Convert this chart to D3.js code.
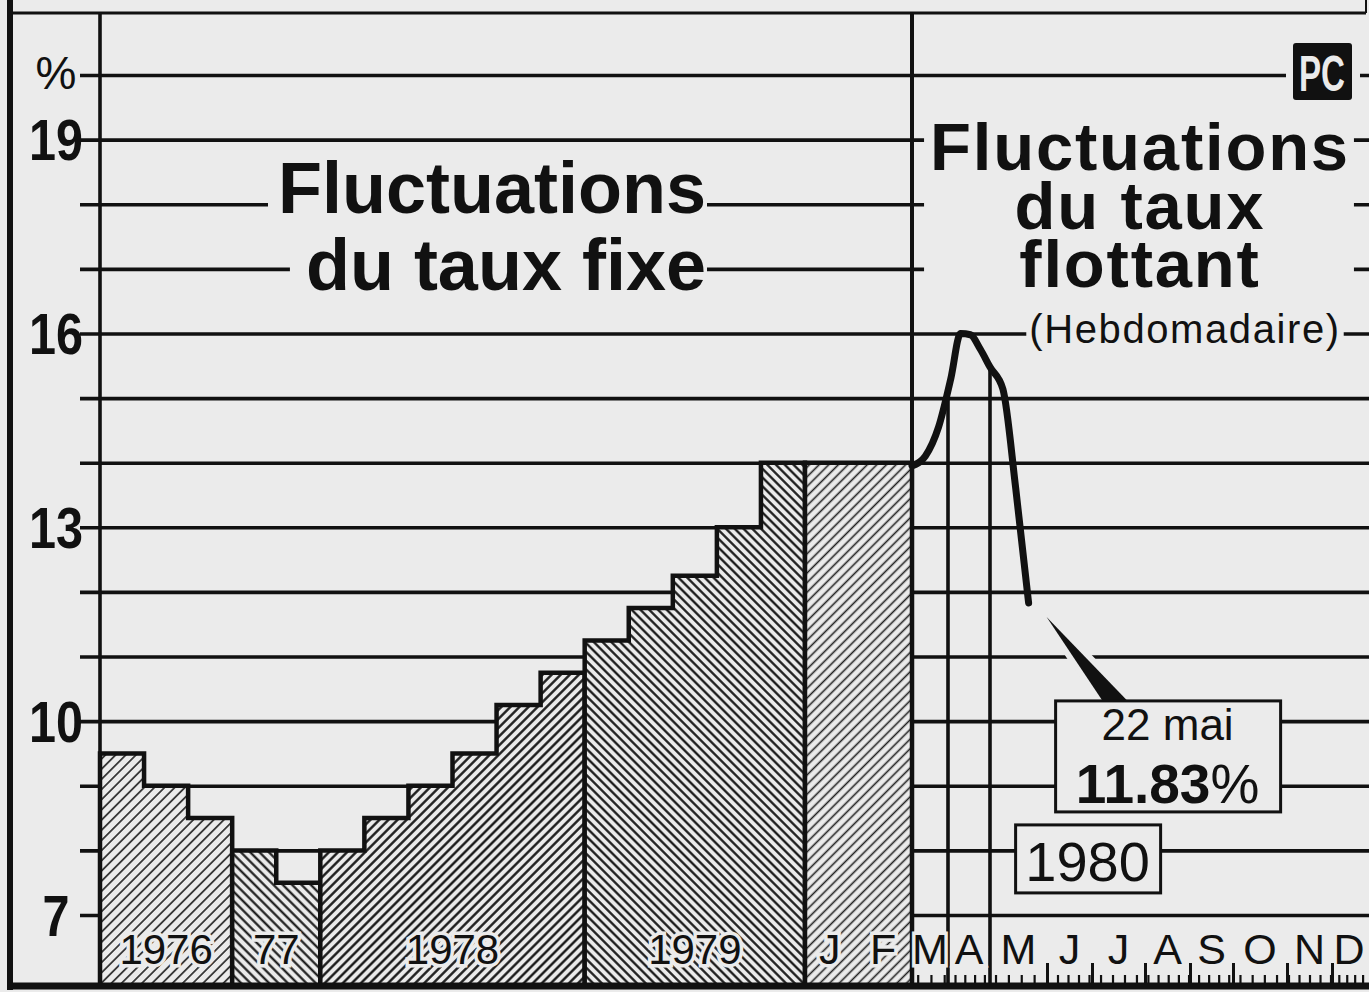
<!DOCTYPE html>
<html>
<head>
<meta charset="utf-8">
<script src="https://cdn.jsdelivr.net/npm/d3@7"></script>
<style>
html, body { margin: 0; padding: 0; background: #ebebeb; }
svg { display: block; }
text { font-family: "Liberation Sans", Arial, sans-serif; }
</style>
</head>
<body>
<svg id="chart" width="1369" height="992"></svg>
<script>
// ############################################
// data
var yTickValues = [7, 8, 9, 10, 11, 12, 13, 14, 15, 16, 17, 18, 19, 20];
var yTickLabels = { 7: "7", 10: "10", 13: "13", 16: "16", 19: "19", 20: "%" };

// fixed bank rate: every rate level gets one equal-width step
var fixedGroups = ["1976", "77", "1978", "1979"];
var fixedGroupSteps = [3, 2, 6, 5];
var fixedRates = [9.5, 9.0, 8.5, 8.0, 7.5, 8.0, 8.5, 9.0, 9.5, 10.25, 10.75, 11.25, 11.75, 12.25, 13.0, 14.0];

// 1980, before the floating rate
var fixedMonths1980 = ["J", "F"];
var fixedRate1980 = 14.0;

// floating rate, weekly
var floatDates = ["1980-03-13", "1980-03-20", "1980-03-27", "1980-04-03", "1980-04-10", "1980-04-17",
                  "1980-04-24", "1980-05-01", "1980-05-08", "1980-05-15", "1980-05-22"];
var floatRates = [13.95, 14.1, 14.55, 15.3, 16.0, 15.98, 15.76, 15.48, 15.14, 13.6, 11.83];

// month boundaries of the 1980 axis and their letters
var monthEdgeDates = ["1980-03-13", "1980-04-01", "1980-05-01", "1980-06-01", "1980-07-01", "1980-08-01",
                      "1980-09-01", "1980-10-01", "1980-11-01", "1980-12-01", "1980-12-31"];
var monthLabels = ["M", "A", "M", "J", "J", "A", "S", "O", "N", "D"];
var frMonths = ["janv.", "févr.", "mars", "avril", "mai", "juin", "juil.", "août", "sept.", "oct.", "nov.", "déc."];

// ############################################
// layout
var W = 1369, H = 992;
var bg = "#ebebeb", ink = "#111";
var plotTop = 13, plotBottom = 986, axisX = 100, splitX = 912, rightX = 1366;
var parse = d3.timeParse("%Y-%m-%d");

var svg = d3.select("#chart");
svg.append("rect").attr("width", W).attr("height", H).attr("fill", bg);

var y = d3.scaleLinear().domain([7, 20]).range([915, 75]);
var xFixed = d3.scaleLinear().domain([0, d3.sum(fixedGroupSteps)]).range([axisX, 805]);
var xJF = d3.scaleBand().domain(fixedMonths1980).range([805, splitX]);
// the hand-drawn months are not all the same width
var xFloat = d3.scaleTime()
    .domain(monthEdgeDates.map(parse))
    .range([912, 948, 990, 1047, 1092, 1145, 1190, 1233, 1287, 1332, 1366]);
var rateAt = d3.scaleTime().domain(floatDates.map(parse)).range(floatRates);

// ############################################
// hatch patterns
var defs = svg.append("defs");
function addHatch(id, angle, spacing, width, color) {
    var p = defs.append("pattern")
        .attr("id", id)
        .attr("patternUnits", "userSpaceOnUse")
        .attr("width", spacing)
        .attr("height", spacing)
        .attr("patternTransform", "rotate(" + angle + ")");
    p.append("rect").attr("width", spacing).attr("height", spacing).attr("fill", bg);
    p.append("line")
        .attr("x1", spacing / 2).attr("x2", spacing / 2)
        .attr("y1", -1).attr("y2", spacing + 1)
        .attr("stroke", color)
        .attr("stroke-width", width);
}
addHatch("h1976", 45, 7.2, 1.6, "#222");
addHatch("h77", -45, 6.6, 2.1, ink);
addHatch("h1978", 45, 6.4, 2.3, ink);
addHatch("h1979", -45, 6.2, 2.2, ink);
addHatch("hJF", 45, 6.8, 1.6, "#222");
var groupHatch = ["h1976", "h77", "h1978", "h1979"];

// ############################################
// gridlines
var grid = svg.append("g")
    .attr("transform", "translate(80,0)")
    .call(d3.axisRight(y).tickValues(yTickValues).tickSize(W - 80).tickFormat(""));
grid.select(".domain").remove();
grid.selectAll("line").attr("stroke", ink).attr("stroke-width", 3.6);

// ############################################
// titles (they cut the gridlines)
var titleG = svg.append("g");
function haloBox(sel, padL, padR, padT, padB) {
    var b = sel.node().getBBox();
    titleG.insert("rect", ":first-child")
        .attr("x", b.x - padL).attr("y", b.y - padT)
        .attr("width", b.width + padL + padR).attr("height", b.height + padT + padB)
        .attr("fill", bg);
}
var t1 = titleG.append("text").attr("x", 706).attr("y", 213).attr("text-anchor", "end")
    .attr("font-size", 72).attr("font-weight", "bold").attr("fill", ink).text("Fluctuations");
haloBox(t1, 10, 1, -4, -8);
var t2 = titleG.append("text").attr("x", 706).attr("y", 290).attr("text-anchor", "end")
    .attr("font-size", 72).attr("font-weight", "bold").attr("fill", ink).text("du taux fixe");
haloBox(t2, 16, 1, -4, -8);

var rightTitle = ["Fluctuations", "du taux", "flottant"];
var rightBase = [170, 229, 287];
var rt = titleG.selectAll("text.rt")
    .data(rightTitle)
    .join("text")
    .attr("class", "rt")
    .attr("x", 1140)
    .attr("y", function(d, i) { return rightBase[i]; })
    .attr("text-anchor", "middle")
    .attr("font-size", 67)
    .attr("font-weight", "bold")
    .attr("letter-spacing", 1.8)
    .attr("fill", ink)
    .text(function(d) { return d; });
var b1 = rt.nodes()[0].getBBox(), b3 = rt.nodes()[2].getBBox();
titleG.insert("rect", ":first-child")
    .attr("x", b1.x - 6).attr("y", b1.y)
    .attr("width", b1.width + 10).attr("height", b3.y + b3.height - b1.y)
    .attr("fill", bg);
var r4 = titleG.append("text").attr("x", 1185).attr("y", 343).attr("text-anchor", "middle")
    .attr("font-family", "DejaVu Sans").attr("font-size", 40).attr("letter-spacing", 1.6)
    .attr("fill", ink).text("(Hebdomadaire)");
haloBox(r4, 3, 3, -2, -4);

// PC logo
var logoY = y(20);
svg.append("rect").attr("x", 1286).attr("y", logoY - 36).attr("width", 74).attr("height", 66).attr("fill", bg);
svg.append("rect").attr("x", 1293).attr("y", logoY - 32).attr("width", 59).attr("height", 57)
    .attr("rx", 3).attr("fill", ink);
svg.append("text").attr("x", 1322).attr("y", logoY + 16).attr("text-anchor", "middle")
    .attr("font-weight", "bold").attr("font-size", 50)
    .attr("textLength", 46).attr("lengthAdjust", "spacingAndGlyphs")
    .attr("fill", bg).text("PC");

// ############################################
// fixed rate steps
var area = d3.area()
    .curve(d3.curveStepAfter)
    .x(function(d) { return d.x; })
    .y0(plotBottom)
    .y1(function(d) { return y(d.v); });

var bars = svg.append("g");
var start = 0;
var groupCenters = [];
fixedGroups.forEach(function(g, gi) {
    var n = fixedGroupSteps[gi];
    var pts = [];
    for (var i = 0; i < n; i++) {
        pts.push({ x: xFixed(start + i), v: fixedRates[start + i] });
    }
    pts.push({ x: xFixed(start + n), v: fixedRates[start + n - 1] });
    bars.append("path")
        .attr("d", area(pts))
        .attr("fill", "url(#" + groupHatch[gi] + ")")
        .attr("stroke", ink)
        .attr("stroke-width", 4.5)
        .attr("stroke-linejoin", "miter");
    groupCenters.push({ label: g, x: xFixed(start + n / 2) });
    start += n;
});

var jfPts = [
    { x: xJF(fixedMonths1980[0]), v: fixedRate1980 },
    { x: xJF(fixedMonths1980[fixedMonths1980.length - 1]) + xJF.bandwidth(), v: fixedRate1980 }
];
bars.append("path")
    .attr("d", area(jfPts))
    .attr("fill", "url(#hJF)")
    .attr("stroke", ink)
    .attr("stroke-width", 4.5);

// ############################################
// floating rate
var fDates = floatDates.map(parse);
var firstF = fDates[0], lastF = fDates[fDates.length - 1];

// month separators hang from the curve
monthEdgeDates.map(parse).forEach(function(d) {
    if (d > firstF && d < lastF) {
        svg.append("line")
            .attr("x1", xFloat(d)).attr("x2", xFloat(d))
            .attr("y1", y(rateAt(d))).attr("y2", plotBottom)
            .attr("stroke", ink).attr("stroke-width", 3.6);
    }
});

var floatLine = d3.line()
    .curve(d3.curveMonotoneX)
    .x(function(d, i) { return xFloat(fDates[i]); })
    .y(function(d) { return y(d); });

svg.append("path")
    .attr("d", floatLine(floatRates))
    .attr("fill", "none")
    .attr("stroke", ink)
    .attr("stroke-width", 7)
    .attr("stroke-linejoin", "round")
    .attr("stroke-linecap", "round");

// pointer + callout
var xe = xFloat(lastF), ye = y(floatRates[floatRates.length - 1]);
var ptr = [[xe + 18, ye + 14], [xe + 99, ye + 98], [xe + 74, ye + 98]];
svg.append("polygon").attr("points", ptr.join(" "))
    .attr("fill", bg).attr("stroke", bg).attr("stroke-width", 12).attr("stroke-linejoin", "round");
svg.append("polygon").attr("points", ptr.join(" ")).attr("fill", ink);

var boxX = xe + 27, boxY = ye + 98;
svg.append("rect").attr("x", boxX).attr("y", boxY).attr("width", 225).attr("height", 111)
    .attr("fill", bg).attr("stroke", ink).attr("stroke-width", 3);
svg.append("text").attr("x", boxX + 112).attr("y", boxY + 39).attr("text-anchor", "middle")
    .attr("font-size", 44).attr("fill", ink)
    .text(lastF.getDate() + " " + frMonths[lastF.getMonth()]);
var pct = svg.append("text").attr("x", boxX + 112).attr("y", boxY + 102).attr("text-anchor", "middle")
    .attr("font-size", 55).attr("fill", ink);
pct.append("tspan").attr("font-weight", "bold").text(d3.format(".2f")(floatRates[floatRates.length - 1]));
pct.append("tspan").text("%");

var yearBoxX = xe - 13, yearBoxY = ye + 222;
svg.append("rect").attr("x", yearBoxX).attr("y", yearBoxY).attr("width", 145).attr("height", 68)
    .attr("fill", bg).attr("stroke", ink).attr("stroke-width", 3);
svg.append("text").attr("x", yearBoxX + 72).attr("y", yearBoxY + 56).attr("text-anchor", "middle")
    .attr("font-size", 56).attr("fill", ink).text(d3.timeFormat("%Y")(lastF));

// ############################################
// axis lines and frame
svg.append("line").attr("x1", axisX).attr("x2", axisX).attr("y1", plotTop).attr("y2", plotBottom)
    .attr("stroke", ink).attr("stroke-width", 3.6);
svg.append("line").attr("x1", splitX).attr("x2", splitX).attr("y1", plotTop).attr("y2", plotBottom)
    .attr("stroke", ink).attr("stroke-width", 4);
svg.append("line").attr("x1", 10).attr("x2", rightX).attr("y1", plotTop).attr("y2", plotTop)
    .attr("stroke", ink).attr("stroke-width", 3);
svg.append("line").attr("x1", rightX).attr("x2", rightX).attr("y1", 0).attr("y2", plotTop)
    .attr("stroke", ink).attr("stroke-width", 2);
svg.append("line").attr("x1", 10).attr("x2", 10).attr("y1", 0).attr("y2", 990)
    .attr("stroke", ink).attr("stroke-width", 6);

// ############################################
// y labels
svg.append("g").selectAll("text")
    .data(yTickValues.filter(function(d) { return yTickLabels[d]; }))
    .join("text")
    .attr("x", 56)
    .attr("y", function(d) { return y(d); })
    .attr("dy", function(d) { return d === 20 ? "0.3em" : "0.36em"; })
    .attr("text-anchor", "middle")
    .attr("font-size", function(d) { return d === 20 ? 46 : 57; })
    .attr("font-weight", function(d) { return d === 20 ? "normal" : "bold"; })
    .attr("textLength", function(d) { return d === 20 ? null : 27 * yTickLabels[d].length; })
    .attr("lengthAdjust", "spacingAndGlyphs")
    .attr("fill", ink)
    .text(function(d) { return yTickLabels[d]; });

// bottom labels
var bottomLabels = groupCenters.slice();
fixedMonths1980.forEach(function(m) {
    bottomLabels.push({ label: m, x: xJF(m) + xJF.bandwidth() / 2 - 2 });
});
var edges = monthEdgeDates.map(parse);
monthLabels.forEach(function(m, i) {
    bottomLabels.push({ label: m, x: (xFloat(edges[i]) + xFloat(edges[i + 1])) / 2 });
});
svg.append("g").selectAll("text")
    .data(bottomLabels)
    .join("text")
    .attr("x", function(d) { return d.x; })
    .attr("y", 964)
    .attr("text-anchor", "middle")
    .attr("font-size", function(d) { return d.label.length > 1 ? 42 : 43; })
    .attr("fill", ink)
    .attr("stroke", bg)
    .attr("stroke-width", 7)
    .attr("paint-order", "stroke")
    .text(function(d) { return d.label; });

// bottom ticks, weekly and monthly
var weekTicks = svg.append("g")
    .attr("transform", "translate(0," + plotBottom + ")")
    .call(d3.axisTop(xFloat).tickValues(d3.timeWeek.range(edges[0], edges[edges.length - 1])).tickSize(11).tickFormat(""));
weekTicks.select(".domain").remove();
weekTicks.selectAll("line").attr("stroke", ink).attr("stroke-width", 2.2);

var monthTicks = svg.append("g")
    .attr("transform", "translate(0," + plotBottom + ")")
    .call(d3.axisTop(xFloat).tickValues(edges.slice(3, edges.length - 1)).tickSize(23).tickFormat(""));
monthTicks.select(".domain").remove();
monthTicks.selectAll("line").attr("stroke", ink).attr("stroke-width", 3);

svg.append("line").attr("x1", 10).attr("x2", W).attr("y1", plotBottom).attr("y2", plotBottom)
    .attr("stroke", ink).attr("stroke-width", 7);
</script>
</body>
</html>
